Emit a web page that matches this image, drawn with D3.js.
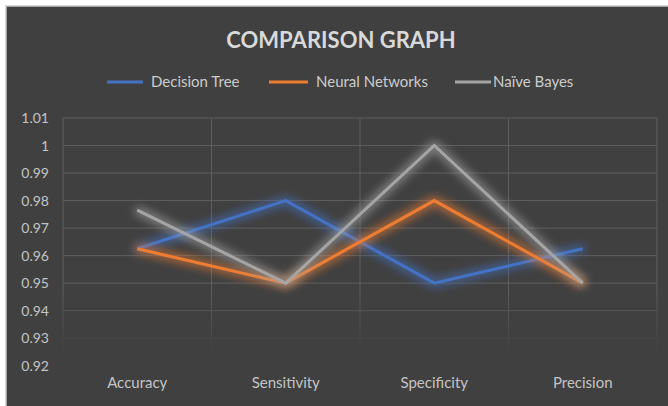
<!DOCTYPE html>
<html><head><meta charset="utf-8">
<script src="https://cdn.jsdelivr.net/npm/d3@7"></script>
<style>
html,body{margin:0;padding:0;background:#fff;}
svg{display:block;}
</style>
</head><body>
<svg id="chart" width="668" height="406"></svg>
<script>
const categories = ["Accuracy", "Sensitivity", "Specificity", "Precision"];
const seriesNames = ["Decision Tree", "Neural Networks", "Naïve Bayes"];
const decisionTree = [0.9625, 0.98, 0.95, 0.9625];
const neuralNetworks = [0.9625, 0.95, 0.98, 0.95];
const naiveBayes = [0.9765, 0.95, 1.0, 0.95];
const yTicks = [0.92, 0.93, 0.94, 0.95, 0.96, 0.97, 0.98, 0.99, 1, 1.01];
const colors = ["#4472C4", "#ED7D31", "#A5A5A5"];
const title = "COMPARISON GRAPH";

const series = [decisionTree, neuralNetworks, naiveBayes];
const svg = d3.select("#chart");
const W = 668, H = 406;
const font = "Lato, 'Open Sans', sans-serif";

const defs = svg.append("defs");
seriesNames.forEach((n, i) => {
  const f = defs.append("filter").attr("id", "glow" + i)
    .attr("x", "-20%").attr("y", "-40%").attr("width", "140%").attr("height", "180%");
  f.append("feMorphology").attr("in", "SourceGraphic").attr("operator", "dilate").attr("radius", 2).attr("result", "d");
  f.append("feGaussianBlur").attr("in", "d").attr("stdDeviation", 5).attr("result", "b");
  f.append("feComponentTransfer").attr("in", "b").attr("result", "b2")
    .append("feFuncA").attr("type", "linear").attr("slope", 0.7);
  const m = f.append("feMerge");
  m.append("feMergeNode").attr("in", "b2");
  m.append("feMergeNode").attr("in", "SourceGraphic");
});
const grad = defs.append("linearGradient").attr("id", "fade")
  .attr("gradientUnits", "userSpaceOnUse").attr("x1", 0).attr("x2", 0).attr("y1", 290).attr("y2", 355);
grad.append("stop").attr("offset", 0).attr("stop-color", "#fff");
grad.append("stop").attr("offset", 1).attr("stop-color", "#000");
defs.append("mask").attr("id", "gridmask").attr("maskUnits", "userSpaceOnUse")
  .attr("x", 0).attr("y", 0).attr("width", W).attr("height", H)
  .append("rect").attr("width", W).attr("height", H).attr("fill", "url(#fade)");

// panel
svg.append("rect").attr("x", 6).attr("y", 6).attr("width", W).attr("height", H)
  .attr("fill", "#404040").attr("stroke", "#c8c8c8").attr("stroke-width", 1.5);

const x = d3.scaleBand().domain(categories).range([63, 657]);
const y = d3.scaleLinear().domain([0.92, 1.01]).range([365.7, 118]);

// grid
const grid = svg.append("g").attr("mask", "url(#gridmask)");
grid.selectAll("line.h").data(yTicks).join("line")
  .attr("x1", 63).attr("x2", 657).attr("y1", d => y(d)).attr("y2", d => y(d))
  .attr("stroke", "#5e5e5e").attr("stroke-width", 1);
const vx = [63, ...categories.slice(1).map(c => x(c)), 657];
grid.selectAll("line.v").data(vx).join("line")
  .attr("x1", d => d).attr("x2", d => d).attr("y1", 118).attr("y2", 365.7)
  .attr("stroke", "#5e5e5e").attr("stroke-width", 1);

// y axis labels
const yAxis = d3.axisLeft(y).tickValues(yTicks).tickSize(0).tickPadding(0)
  .tickFormat(d => d3.format("")(+d.toFixed(2)));
const ya = svg.append("g").attr("transform", "translate(49,0)").call(yAxis);
ya.select(".domain").remove();
ya.selectAll("text").attr("fill", "#c4c4c4").style("font-family", font).style("font-size", "14px");

// x axis labels
const xAxis = d3.axisBottom(x).tickSize(0).tickPadding(0);
const xa = svg.append("g").attr("transform", "translate(0,377)").call(xAxis);
xa.select(".domain").remove();
xa.selectAll("text").attr("fill", "#c4c4c4").style("font-family", font).style("font-size", "15px");

// lines
const line = d3.line().x((d, i) => x(categories[i]) + x.bandwidth() / 2).y(d => y(d));
series.forEach((s, i) => {
  svg.append("path").datum(s).attr("d", line).attr("fill", "none")
    .attr("stroke", colors[i]).attr("stroke-width", 3).attr("stroke-linejoin", "miter")
    .attr("filter", "url(#glow" + i + ")");
});

// title
svg.append("text").attr("x", 341).attr("y", 48).attr("text-anchor", "middle")
  .attr("fill", "#d9d9d9").style("font-family", font).style("font-weight", "bold").style("font-size", "22px")
  .text(title);

// legend
const legX = [107, 269, 455];
const legLen = [36, 39, 36];
const leg = svg.append("g");
seriesNames.forEach((n, i) => {
  leg.append("line").attr("x1", legX[i]).attr("x2", legX[i] + legLen[i]).attr("y1", 82).attr("y2", 82)
    .attr("stroke", colors[i]).attr("stroke-width", 3);
  leg.append("text").attr("x", legX[i] + legLen[i] + (i === 2 ? 2 : 8)).attr("y", 87)
    .attr("fill", "#cccccc").style("font-family", font).style("font-size", "15px").text(n);
});
</script>
</body></html>
